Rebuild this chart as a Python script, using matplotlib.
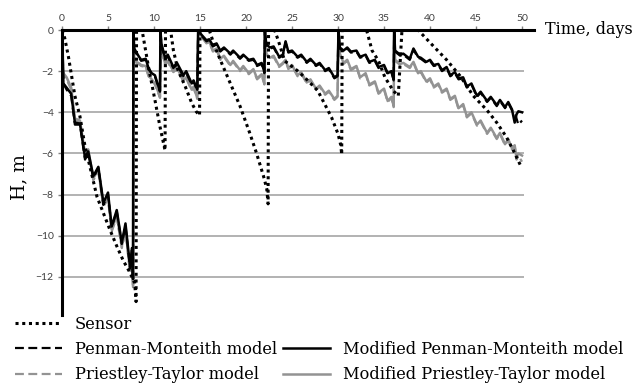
import matplotlib
matplotlib.use('Agg')
from matplotlib import pyplot as plt
from matplotlib.lines import Line2D

# time grid shared by the four model curves (days)
t_model = [0.0, 0.15, 0.5, 1.0, 1.4, 1.95, 2.5, 2.85, 3.4, 3.95, 4.5, 5.0, 5.4, 5.95, 6.5, 6.9, 7.4, 7.6, 7.72,
           7.76, 7.85, 8.3, 8.6, 9.1, 9.4, 9.75, 10.1, 10.45, 10.65,
           10.7, 10.8, 11.2, 11.5, 12.1, 12.5, 13.2, 13.5, 14.1, 14.3, 14.7,
           14.8, 15.0, 15.7, 16.0, 16.4, 16.8, 17.2, 17.6, 18.3, 18.6, 19.35, 19.7, 20.3, 20.8, 21.2, 21.7, 22.0,
           22.05, 22.2, 22.6, 23.0, 23.6, 24.0, 24.3, 24.6, 25.0, 25.6, 26.0, 26.6, 27.0, 27.6, 28.0, 28.6, 29.0, 29.6, 29.95,
           30.05, 30.2, 30.6, 31.0, 31.4, 32.0, 32.4, 33.0, 33.4, 34.0, 34.4, 35.0, 35.4, 35.8, 36.05,
           36.1, 36.2, 36.75, 37.1, 37.8, 38.2, 38.7, 39.0, 39.6, 40.0, 40.4, 40.9, 41.3, 41.8, 42.2, 42.7, 43.1,
           43.6, 44.0, 44.5, 45.1, 45.5, 46.2, 46.6, 47.25, 47.6, 48.15, 48.5, 48.9, 49.2, 49.4, 49.6, 50.0]

# Modified Penman-Monteith (solid black)
h_mpm = [0, -2.6, -2.8, -3.1, -4.5, -4.55, -6.2, -5.9, -7.1, -6.65, -8.4, -7.9, -9.55, -8.75, -10.35, -9.4, -11.5, -10.6, -12.1,
         0, -0.9, -1.25, -1.45, -1.4, -1.85, -2.1, -2.2, -2.7, -2.95,
         0, -0.65, -1.35, -1.2, -1.8, -1.6, -2.2, -2.0, -2.6, -2.45, -2.9,
         0, -0.15, -0.5, -0.45, -0.75, -0.65, -1.0, -0.85, -1.15, -1.0, -1.35, -1.2, -1.45, -1.4, -1.7, -1.6, -2.05,
         0, -0.7, -0.85, -0.8, -1.3, -1.2, -0.55, -1.05, -1.0, -1.3, -1.2, -1.55, -1.4, -1.7, -1.6, -1.95, -1.85, -2.3, -2.2,
         0, -0.85, -1.0, -0.85, -1.05, -1.0, -1.3, -1.2, -1.55, -1.45, -1.8, -1.7, -2.1, -2.0, -2.4,
         0, -1.0, -1.2, -1.15, -1.4, -0.9, -1.3, -1.35, -1.55, -1.45, -1.7, -1.65, -1.95, -1.8, -2.2, -2.05, -2.35,
         -2.3, -2.75, -2.6, -3.2, -3.0, -3.45, -3.25, -3.65, -3.4, -3.75, -3.5, -3.85, -4.5, -4.1, -3.95, -4.0]

# Penman-Monteith (dashed black)
h_pm = [0, -2.6, -2.9, -3.2, -4.6, -4.6, -6.3, -6.0, -7.2, -6.7, -8.5, -8.0, -9.6, -8.8, -10.4, -9.5, -11.6, -10.7, -12.2,
        0, -1.0, -1.3, -1.5, -1.45, -1.9, -2.15, -2.25, -2.75, -3.0,
        0, -0.75, -1.4, -1.3, -1.85, -1.7, -2.25, -2.1, -2.65, -2.5, -2.95,
        0, -0.2, -0.55, -0.5, -0.8, -0.7, -1.05, -0.9, -1.2, -1.05, -1.4, -1.25, -1.5, -1.45, -1.75, -1.65, -2.1,
        0, -0.75, -0.9, -0.85, -1.35, -1.25, -0.6, -1.1, -1.05, -1.35, -1.25, -1.6, -1.45, -1.75, -1.65, -2.0, -1.9, -2.35, -2.25,
        0, -0.9, -1.05, -0.9, -1.1, -1.05, -1.35, -1.25, -1.6, -1.5, -1.85, -1.75, -2.15, -2.05, -2.45,
        0, -1.05, -1.25, -1.2, -1.45, -0.95, -1.35, -1.4, -1.6, -1.5, -1.75, -1.7, -2.0, -1.85, -2.25, -2.1, -2.4,
        -2.35, -2.8, -2.65, -3.25, -3.05, -3.5, -3.3, -3.7, -3.45, -3.8, -3.55, -3.9, -4.0, -4.3, -4.6, -4.4]

# Modified Priestley-Taylor (solid grey)
h_mpt = [0, -2.1, -2.3, -2.8, -4.3, -4.4, -6.0, -5.8, -7.2, -6.8, -8.5, -8.1, -9.7, -9.0, -10.5, -9.7, -11.7, -11.0, -12.4,
         0, -1.5, -1.6, -1.7, -1.75, -2.2, -2.4, -2.6, -3.0, -3.25,
         0, -1.0, -1.6, -1.5, -2.0, -1.85, -2.45, -2.3, -2.9, -2.75, -3.3,
         0, -0.2, -0.6, -0.55, -1.0, -0.9, -1.4, -1.25, -1.7, -1.5, -1.95, -1.75, -2.1, -1.9, -2.35, -2.15, -2.6,
         0, -1.15, -1.35, -1.25, -1.75, -1.6, -1.45, -1.85, -1.7, -2.2, -2.05, -2.55, -2.4, -2.85, -2.7, -3.1, -2.95, -3.35, -3.2,
         0, -1.15, -1.6, -1.45, -1.9, -1.75, -2.3, -2.1, -2.65, -2.5, -3.05, -2.85, -3.45, -3.25, -3.7,
         0, -1.45, -1.65, -1.6, -1.8, -1.55, -2.1, -2.0, -2.5, -2.35, -2.75, -2.6, -3.0, -2.85, -3.35, -3.2, -3.8,
         -3.6, -4.2, -4.0, -4.6, -4.4, -5.0, -4.75, -5.25, -5.0, -5.55, -5.3, -5.75, -5.6, -6.2, -6.0, -6.1]

# Priestley-Taylor (dashed grey)
h_pt = [0, -2.2, -2.4, -2.9, -4.4, -4.5, -6.1, -5.9, -7.3, -6.9, -8.6, -8.2, -9.8, -9.1, -10.6, -9.8, -11.8, -11.1, -12.5,
        0, -1.6, -1.65, -1.75, -1.8, -2.25, -2.45, -2.65, -3.05, -3.3,
        0, -1.1, -1.65, -1.55, -2.05, -1.9, -2.5, -2.35, -2.95, -2.8, -3.35,
        0, -0.25, -0.65, -0.6, -1.05, -0.95, -1.45, -1.3, -1.75, -1.55, -2.0, -1.8, -2.15, -1.95, -2.4, -2.2, -2.65,
        0, -1.2, -1.4, -1.3, -1.8, -1.65, -1.5, -1.9, -1.75, -2.25, -2.1, -2.6, -2.45, -2.9, -2.75, -3.15, -3.0, -3.4, -3.25,
        0, -1.2, -1.65, -1.5, -1.95, -1.8, -2.35, -2.15, -2.7, -2.55, -3.1, -2.9, -3.5, -3.3, -3.75,
        0, -1.5, -1.7, -1.65, -1.85, -1.6, -2.15, -2.05, -2.55, -2.4, -2.8, -2.65, -3.05, -2.9, -3.4, -3.25, -3.85,
        -3.65, -4.25, -4.05, -4.65, -4.45, -5.05, -4.8, -5.3, -5.05, -5.6, -5.35, -5.8, -5.65, -6.3, -6.1, -6.4]

# sensor
t_sensor = [0.0, 0.3, 0.7, 1.05, 1.4, 1.95, 2.5, 3.2, 3.8, 4.5, 5.2, 5.95, 6.65, 7.4, 7.9, 8.05,
            8.1, 8.7, 9.4, 10.1, 10.65, 11.2,
            11.25, 11.8, 12.1, 12.6, 13.4, 14.1, 14.6, 14.95,
            15.0, 16.0, 16.6, 17.2, 18.3, 19.35, 20.4, 21.15, 21.9, 22.25, 22.4,
            22.45, 23.1, 23.5, 23.85, 24.2, 25.65, 26.7, 27.8, 28.55, 29.3, 30.0, 30.3, 30.4,
            30.45, 33.1, 33.7, 34.4, 35.1, 36.0, 36.55,
            36.95, 38.7, 40.4, 41.8, 43.3, 44.7, 46.2, 47.25, 48.3, 49.05, 49.8, 50.0]
h_sensor = [0, -0.4, -1.3, -2.25, -3.2, -4.2, -5.65, -6.95, -8.1, -8.9, -9.7, -10.5, -11.2, -11.8, -12.3, -13.2,
            0, 0, -1.8, -3.4, -4.7, -5.85,
            0, 0, -0.97, -1.95, -2.75, -3.55, -3.97, -4.15,
            0, 0, -0.8, -1.45, -2.6, -3.7, -5.0, -6.0, -7.1, -7.7, -8.45,
            0, 0, -0.5, -1.0, -1.5, -2.0, -2.45, -2.95, -3.6, -4.25, -5.05, -5.6, -6.05,
            0, 0, -1.0, -1.5, -2.3, -2.95, -3.2,
            0, 0, -0.8, -1.45, -2.25, -3.2, -3.9, -4.5, -5.2, -5.85, -6.55, -6.6]

x_ticks = [0, 5, 10, 15, 20, 25, 30, 35, 40, 45, 50]
y_ticks = [0, -2, -4, -6, -8, -10, -12]

serif = 'DejaVu Serif'
grey = '#939393'
fig = plt.figure(figsize=(6.37, 3.85), dpi=100)
ax = fig.add_axes([62/637, 1 - 315/385, (534 - 62)/637, (315 - 30)/385])

ax.hlines(y_ticks[1:], 0, 50.2, colors='#a6a6a6', linewidth=1.2, zorder=0)

l_pt, = ax.plot(t_model, h_pt, color=grey, lw=1.6, ls=(0, (4, 2)), label='Priestley-Taylor model')
l_mpt, = ax.plot(t_model, h_mpt, color=grey, lw=1.8, label='Modified Priestley-Taylor model')
l_pm, = ax.plot(t_model, h_pm, color='black', lw=1.6, ls=(0, (4, 2)), label='Penman-Monteith model')
l_mpm, = ax.plot(t_model, h_mpm, color='black', lw=1.8, label='Modified Penman-Monteith model')
l_s, = ax.plot(t_sensor, h_sensor, color='black', lw=2.2, ls=(0, (1, 1.2)), label='Sensor')

ax.set_xlim(0, 51.3)
ax.set_ylim(-13.85, 0)
ax.set_xticks(x_ticks)
ax.set_yticks(y_ticks)
ax.xaxis.tick_top()
ax.tick_params(axis='x', length=3, width=1, color='#808080', pad=2, labelsize=7.5, labelcolor='#404040')
ax.tick_params(axis='y', length=3, width=1, color='#808080', pad=3, labelsize=7.5, labelcolor='#404040')
for lab in ax.get_xticklabels() + ax.get_yticklabels():
    lab.set_family('Lato')
ax.spines['bottom'].set_visible(False)
ax.spines['right'].set_visible(False)
ax.spines['top'].set_linewidth(2.2)
ax.spines['left'].set_linewidth(2.2)
ax.patch.set_alpha(0)

fig.text(545/637, 1 - 30/385, 'Time, days', family=serif, fontsize=11.5, va='center', ha='left')
fig.text(19/637, 1 - 177/385, 'H, m', family=serif, fontsize=13.5, va='center', ha='center', rotation=90)

blank = Line2D([], [], color='none', label=' ')
leg_handles = [l_s, l_pm, l_pt, blank, l_mpm, l_mpt]
# Excel-style legend under the plot: dashed samples drawn a bit coarser
fig.legend(handles=leg_handles, ncol=2, loc='upper left',
           bbox_to_anchor=(15/637, 1 - 316/385), frameon=False,
           prop={'family': serif, 'size': 11.7}, handlelength=2.9, handletextpad=0.8,
           columnspacing=0.35, labelspacing=0.5, borderpad=0, borderaxespad=0)

fig.savefig('out.png', dpi=100)
